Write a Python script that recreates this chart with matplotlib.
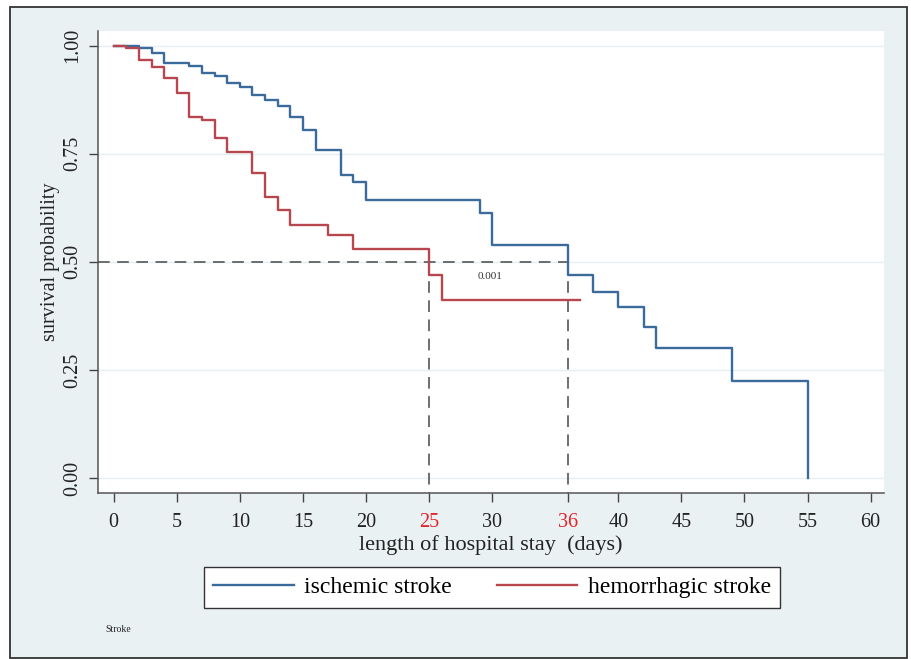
import numpy as np
import matplotlib
matplotlib.use('Agg')
import matplotlib.pyplot as plt
from matplotlib.patches import Rectangle

# Kaplan-Meier steps
blue_t = [0, 2, 3, 4, 6, 7, 8, 9, 10, 11, 12, 13, 14, 15, 16, 18, 19, 20, 29, 30, 36, 38, 40, 42, 43, 49, 55]
blue_s = [1.0, 0.994, 0.983, 0.96, 0.954, 0.937, 0.929, 0.914, 0.904, 0.885, 0.875, 0.861, 0.835, 0.806,
          0.758, 0.701, 0.684, 0.644, 0.614, 0.539, 0.47, 0.431, 0.396, 0.35, 0.30, 0.225, 0.0]

red_t = [0, 1, 2, 3, 4, 5, 6, 7, 8, 9, 11, 12, 13, 14, 17, 19, 25, 26, 37]
red_s = [1.0, 0.994, 0.968, 0.951, 0.925, 0.89, 0.836, 0.827, 0.786, 0.753, 0.705, 0.651, 0.62, 0.586,
         0.562, 0.53, 0.47, 0.412, 0.412]

median_red = 25
median_blue = 36
p_text = '0.001'
x_ticks = [0, 5, 10, 15, 20, 25, 30, 36, 40, 45, 50, 55, 60]
y_ticks = [0.0, 0.25, 0.5, 0.75, 1.0]
labels = ['ischemic stroke', 'hemorrhagic stroke']

blue = '#3b6b9b'
red = '#b8464e'
bright_red = '#e3232a'
dash_col = '#555555'

plt.rcParams['font.family'] = ['Liberation Serif', 'DejaVu Serif']

W, H = 912, 659
fig = plt.figure(figsize=(W / 100, H / 100), dpi=100, facecolor='white')

# outer panel
fig.patches.append(Rectangle((10 / W, 1 - 658 / H), 897 / W, 651 / H, transform=fig.transFigure,
                             facecolor='#eaf1f3', edgecolor='#333333', lw=1.3, zorder=-10))

ax = fig.add_axes([98 / W, 1 - 493 / H, 786 / W, 462 / H])
ax.set_zorder(1)
ax.set_facecolor('white')
ax.set_xlim(-1.245, 61.06)
ax.set_ylim(-0.0347, 1.034)

for y in y_ticks:
    ax.axhline(y, color='#e5eef1', lw=1.0, zorder=1)

ax.step(blue_t, blue_s, where='post', color=blue, lw=1.7, label=labels[0], zorder=3)
ax.step(red_t, red_s, where='post', color=red, lw=1.7, label=labels[1], zorder=3)

# median lines
ax.plot([-1.245, median_blue], [0.5, 0.5], color=dash_col, lw=1.2, dashes=(7, 4.5), zorder=2)
ax.plot([median_red, median_red], [0.5, -0.0347], color=dash_col, lw=1.2, dashes=(7, 4.5), zorder=2)
ax.plot([median_blue, median_blue], [0.5, -0.0347], color=dash_col, lw=1.2, dashes=(7, 4.5), zorder=2)
ax.text(29.8, 0.466, p_text, fontsize=8, ha='center', va='center', color='#333333')

for s in ['top', 'right']:
    ax.spines[s].set_visible(False)
for s in ['left', 'bottom']:
    ax.spines[s].set_color('#555555')
    ax.spines[s].set_linewidth(1.1)

ax.set_xticks(x_ticks)
ax.set_xticklabels([str(v) for v in x_ticks])
ax.set_yticks(y_ticks)
ax.set_yticklabels(['%.2f' % v for v in y_ticks], rotation=90, va='center')
ax.tick_params(axis='both', direction='out', length=6.5, width=1.0, color='#444444',
               labelsize=14.5, labelcolor='#222222')
ax.tick_params(axis='x', pad=8)
ax.tick_params(axis='y', pad=5)
for lab, tk, v in zip(ax.get_xticklabels(), ax.xaxis.get_major_ticks(), x_ticks):
    if v in (median_red, median_blue):
        lab.set_color(bright_red)
        tk.tick1line.set_color(bright_red)

ax.set_xlabel('length of hospital stay  (days)', fontsize=16, color='#222222', labelpad=2)
ax.set_ylabel('survival probability', fontsize=14.5, color='#222222', labelpad=2)

leg = fig.legend(loc='center', bbox_to_anchor=(492 / W, 1 - 587.5 / H), ncol=2, fontsize=17,
                 frameon=True, fancybox=False, handlelength=3.4, handletextpad=0.45,
                 columnspacing=1.9, borderpad=0.4, framealpha=1)
leg.get_frame().set_edgecolor('#333333')
leg.get_frame().set_facecolor('white')
leg.get_frame().set_linewidth(1.0)

fig.text(105 / W, 1 - 630 / H, 'Stroke', fontsize=7, ha='left', va='center', color='#222222')

fig.savefig('out.png', dpi=100)
